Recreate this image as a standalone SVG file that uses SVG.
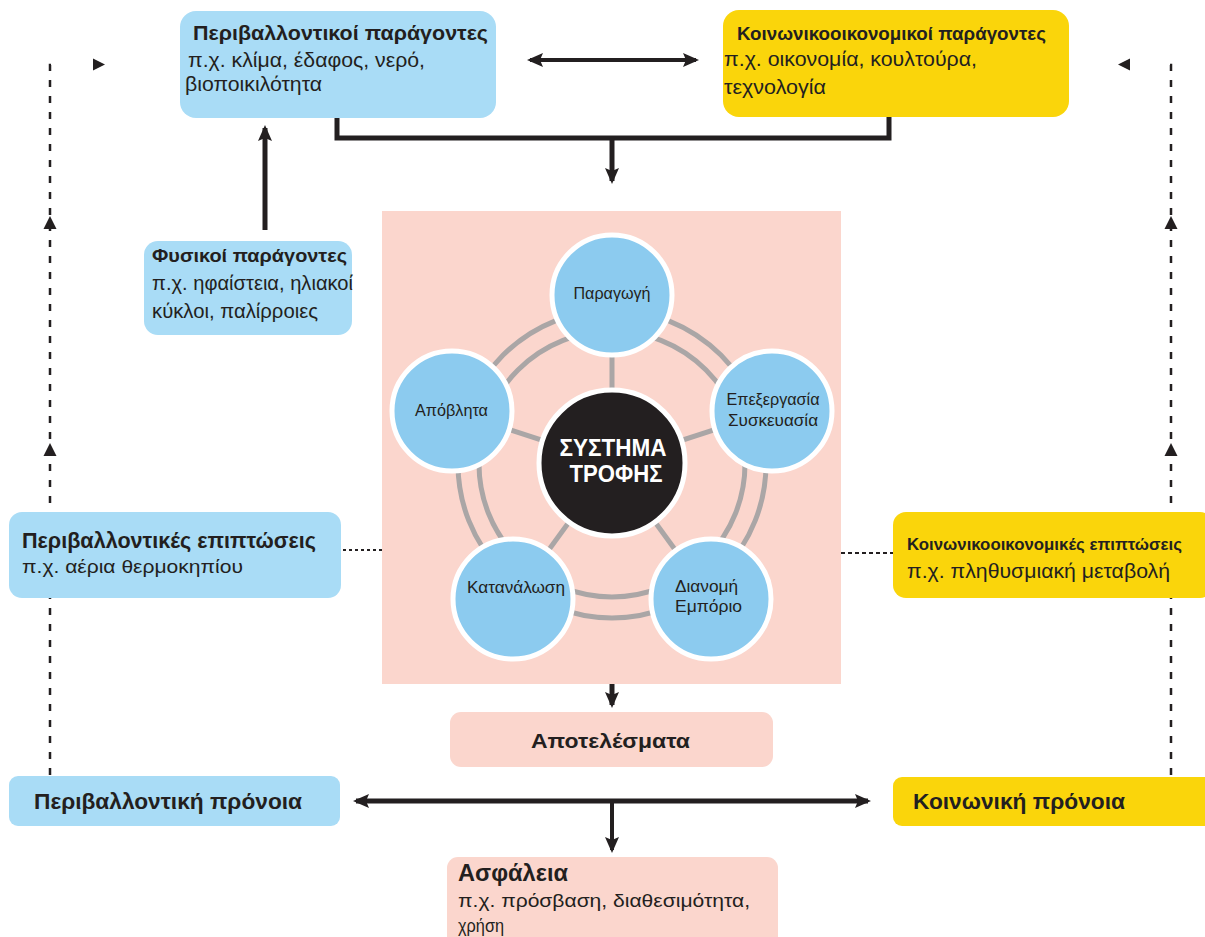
<svg xmlns="http://www.w3.org/2000/svg" width="1205" height="937" viewBox="0 0 1205 937">
<defs>
<style>
.t{font-family:"Liberation Sans",Arial,sans-serif;fill:#231f20}
.b{font-weight:bold}
.w{fill:#fff}
.blue{fill:#a9dcf6}
.yel{fill:#fad50b}
.pink{fill:#fbd6cd}
.con{stroke:#231f20;fill:none}
.thick{stroke-width:5}
.dash{stroke:#231f20;stroke-width:2.5;stroke-dasharray:7 9;fill:none}
.ring{stroke:#aaa6a6;stroke-width:5;fill:none}
.node{fill:#8ccbef;stroke:#fff;stroke-width:5}
.tri{fill:#231f20}
</style>
<marker id="ah" markerUnits="userSpaceOnUse" markerWidth="16" markerHeight="14" refX="13" refY="7" orient="auto-start-reverse" viewBox="0 0 16 14">
<path d="M0,0 L16,7 L0,14 L3,7 z" fill="#231f20"/>
</marker>
</defs>
<rect width="1205" height="937" fill="#fff"/>

<g id="connectors">
<path class="dash" d="M50,775 V65 H54"/>
<path class="dash" d="M1171,775 V65 H1167"/>
<polygon class="tri" points="50,216 43.5,229 56.5,229"/>
<polygon class="tri" points="50,443 43.5,456 56.5,456"/>
<polygon class="tri" points="1171,216 1164.5,229 1177.5,229"/>
<polygon class="tri" points="1171,443 1164.5,456 1177.5,456"/>
<polygon class="tri" points="93,58.5 105,64.5 93,70.5"/>
<polygon class="tri" points="1130,58.5 1118,64.5 1130,70.5"/>
<line class="con" stroke-width="4" x1="530" y1="60" x2="696" y2="60" marker-start="url(#ah)" marker-end="url(#ah)"/>
<path class="con thick" d="M337,118 V138 H889 V117"/>
<line class="con thick" x1="612" y1="138" x2="612" y2="181" marker-end="url(#ah)"/>
<line class="con thick" x1="265" y1="230" x2="265" y2="128" marker-end="url(#ah)"/>
<line class="con" stroke-width="1.8" stroke-dasharray="3 3" x1="325" y1="550" x2="382" y2="550"/>
<line class="con" stroke-width="1.8" stroke-dasharray="4 3" x1="841" y1="553" x2="1182" y2="553"/>
<line class="con thick" x1="612" y1="662" x2="612" y2="705" marker-end="url(#ah)"/>
<line class="con thick" x1="356" y1="801" x2="868" y2="801" marker-start="url(#ah)" marker-end="url(#ah)"/>
<line class="con" stroke-width="4" x1="612" y1="801" x2="612" y2="850" marker-end="url(#ah)"/>
</g>

<g id="env-factors">
<rect class="blue" x="180" y="11" width="316" height="107" rx="16"/>
<text class="t b" x="193" y="40" font-size="21" textLength="295" lengthAdjust="spacingAndGlyphs">Περιβαλλοντικοί παράγοντες</text>
<text class="t" x="188" y="67" font-size="20.5" textLength="237" lengthAdjust="spacingAndGlyphs">π.χ. κλίμα, έδαφος, νερό,</text>
<text class="t" x="185" y="91" font-size="20.5" textLength="137" lengthAdjust="spacingAndGlyphs">βιοποικιλότητα</text>
</g>

<g id="socio-factors">
<rect class="yel" x="723" y="10" width="346" height="107" rx="16"/>
<text class="t b" x="737" y="40" font-size="18" textLength="309" lengthAdjust="spacingAndGlyphs">Κοινωνικοοικονομικοί παράγοντες</text>
<text class="t" x="724" y="66" font-size="20.5" textLength="253" lengthAdjust="spacingAndGlyphs">π.χ. οικονομία, κουλτούρα,</text>
<text class="t" x="724" y="94" font-size="20.5" textLength="102" lengthAdjust="spacingAndGlyphs">τεχνολογία</text>
</g>

<g id="physical-factors">
<rect class="blue" x="144" y="241" width="208" height="94" rx="14"/>
<text class="t b" x="152" y="262" font-size="18" textLength="195" lengthAdjust="spacingAndGlyphs">Φυσικοί παράγοντες</text>
<text class="t" x="152" y="290" font-size="20" textLength="201" lengthAdjust="spacingAndGlyphs">π.χ. ηφαίστεια, ηλιακοί</text>
<text class="t" x="152" y="318" font-size="20" textLength="166" lengthAdjust="spacingAndGlyphs">κύκλοι, παλίρροιες</text>
</g>

<g id="food-system">
<rect class="pink" x="382" y="211" width="459" height="473"/>
<circle class="ring" cx="612" cy="464" r="133"/>
<circle class="ring" cx="612" cy="464" r="154"/>
<g stroke="#aaa6a6" stroke-width="5">
<line x1="612" y1="463" x2="612" y2="295"/>
<line x1="612" y1="463" x2="772" y2="411"/>
<line x1="612" y1="463" x2="711" y2="599"/>
<line x1="612" y1="463" x2="513" y2="599"/>
<line x1="612" y1="463" x2="452" y2="411"/>
</g>
<g id="node-center">
<circle cx="612" cy="463" r="73" fill="#231f20" stroke="#fff" stroke-width="5"/>
<text class="t b w" x="613" y="456" font-size="23" text-anchor="middle" textLength="107" lengthAdjust="spacingAndGlyphs">ΣΥΣΤΗΜΑ</text>
<text class="t b w" x="616" y="482" font-size="23" text-anchor="middle" textLength="93" lengthAdjust="spacingAndGlyphs">ΤΡΟΦΗΣ</text>
</g>
<g id="node-production">
<circle class="node" cx="612" cy="295" r="60"/>
<text class="t" x="612" y="299" font-size="16" text-anchor="middle" textLength="77" lengthAdjust="spacingAndGlyphs">Παραγωγή</text>
</g>
<g id="node-processing">
<circle class="node" cx="772" cy="411" r="60"/>
<text class="t" x="773" y="405" font-size="16" text-anchor="middle" textLength="93" lengthAdjust="spacingAndGlyphs">Επεξεργασία</text>
<text class="t" x="773" y="426" font-size="16" text-anchor="middle" textLength="90" lengthAdjust="spacingAndGlyphs">Συσκευασία</text>
</g>
<g id="node-distribution">
<circle class="node" cx="711" cy="599" r="60"/>
<text class="t" x="675" y="592" font-size="16" textLength="63" lengthAdjust="spacingAndGlyphs">Διανομή</text>
<text class="t" x="675" y="612" font-size="16" textLength="67" lengthAdjust="spacingAndGlyphs">Εμπόριο</text>
</g>
<g id="node-consumption">
<circle class="node" cx="513" cy="599" r="60"/>
<text class="t" x="467" y="593" font-size="16" textLength="98" lengthAdjust="spacingAndGlyphs">Κατανάλωση</text>
</g>
<g id="node-waste">
<circle class="node" cx="452" cy="411" r="60"/>
<text class="t" x="415" y="416" font-size="16" textLength="73" lengthAdjust="spacingAndGlyphs">Απόβλητα</text>
</g>
</g>

<g id="env-impacts">
<rect class="blue" x="9" y="512" width="332" height="86" rx="13"/>
<text class="t b" x="22" y="548" font-size="22" textLength="294" lengthAdjust="spacingAndGlyphs">Περιβαλλοντικές επιπτώσεις</text>
<text class="t" x="22" y="573" font-size="19" textLength="221" lengthAdjust="spacingAndGlyphs">π.χ. αέρια θερμοκηπίου</text>
</g>

<g id="socio-impacts">
<rect class="yel" x="893" y="512" width="320" height="86" rx="13"/>
<text class="t b" x="907" y="550" font-size="16.5" textLength="275" lengthAdjust="spacingAndGlyphs">Κοινωνικοοικονομικές επιπτώσεις</text>
<text class="t" x="907" y="578" font-size="20" textLength="263" lengthAdjust="spacingAndGlyphs">π.χ. πληθυσμιακή μεταβολή</text>
</g>

<g id="outcomes">
<rect class="pink" x="450" y="712" width="323" height="55" rx="11"/>
<text class="t b" x="531" y="748" font-size="21" textLength="159" lengthAdjust="spacingAndGlyphs">Αποτελέσματα</text>
</g>

<g id="env-welfare">
<rect class="blue" x="9" y="776" width="331" height="50" rx="9"/>
<text class="t b" x="34" y="809" font-size="21.5" textLength="268" lengthAdjust="spacingAndGlyphs">Περιβαλλοντική πρόνοια</text>
</g>

<g id="social-welfare">
<rect class="yel" x="893" y="777" width="322" height="49" rx="9"/>
<text class="t b" x="913" y="809" font-size="21.5" textLength="212" lengthAdjust="spacingAndGlyphs">Κοινωνική πρόνοια</text>
</g>

<g id="security">
<rect class="pink" x="447" y="857" width="331" height="95" rx="11"/>
<text class="t b" x="458" y="881" font-size="23" textLength="110" lengthAdjust="spacingAndGlyphs">Ασφάλεια</text>
<text class="t" x="458" y="907" font-size="19" textLength="292" lengthAdjust="spacingAndGlyphs">π.χ. πρόσβαση, διαθεσιμότητα,</text>
<text class="t" x="458" y="932" font-size="19" textLength="46" lengthAdjust="spacingAndGlyphs">χρήση</text>
</g>
</svg>
